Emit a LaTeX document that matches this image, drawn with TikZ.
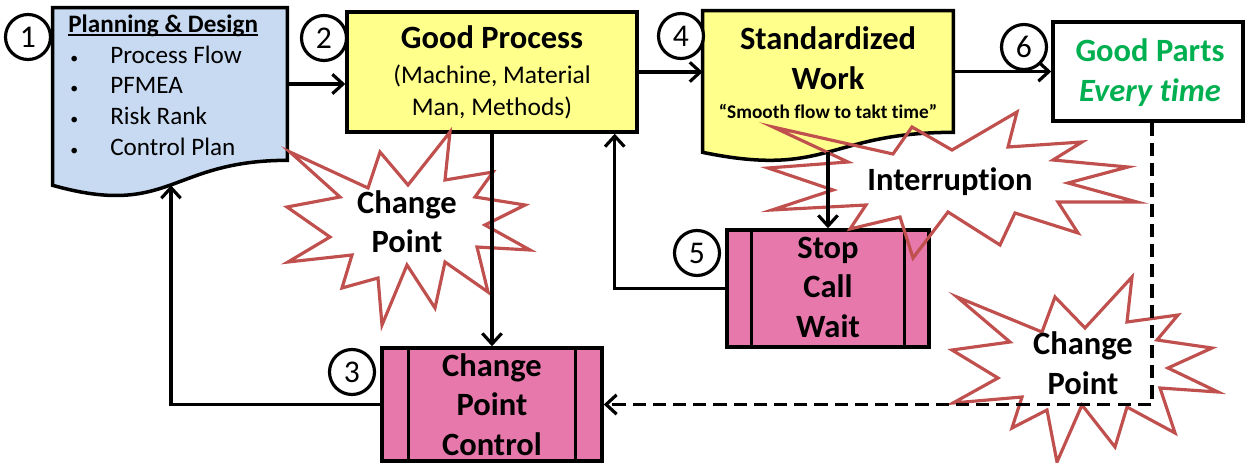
\documentclass[tikz,border=0pt]{standalone}
\usepackage{fontspec}
\setmainfont{Carlito}[Ligatures={TeX,NoCommon}]
\usetikzlibrary{arrows.meta,calc}

\definecolor{planblue}{RGB}{200,218,241}
\definecolor{padyellow}{RGB}{255,255,140}
\definecolor{ctrlpink}{RGB}{230,120,172}
\definecolor{goodgreen}{RGB}{0,176,80}
\definecolor{burstred}{RGB}{192,80,77}

\begin{document}
\begin{tikzpicture}[x=0.02cm, y=-0.02cm,
  edge/.style={draw, line width=2pt},
  box/.style={edge, inner sep=0pt},
  num/.style={circle, draw, line width=1.8pt, fill=white, minimum size=0.9cm, inner sep=0pt, font=\fontsize{18}{18}\selectfont},
  arr/.style={line width=1.8pt, -{Straight Barb[length=6pt,width=11pt]}},
  burst/.style={draw=burstred, line width=1.8pt},
  txt/.style={anchor=base, inner sep=0pt},
  big/.style={txt, font=\fontsize{18.5}{22}\selectfont\bfseries},
  body/.style={anchor=base west, inner sep=0pt, font=\fontsize{14.3}{17}\selectfont}]
\useasboundingbox (0,0) rectangle (1249,463);

% boxes
\node[inner sep=0pt, minimum width=4.68cm, minimum height=3.04cm] (plan) at (170,84) {};
\node[inner sep=0pt, minimum width=5cm, minimum height=2.42cm] (std) at (828,71.5) {};
\node[box, fill=padyellow, minimum width=5.8cm, minimum height=2.4cm] (gp) at (492,72) {};
\node[box, minimum width=3.8cm, minimum height=1.98cm] (good) at (1148,71.5) {};
\node[box, fill=ctrlpink, minimum width=4.4cm, minimum height=2.26cm] (cpc) at (492,404.5) {};
\node[box, fill=ctrlpink, minimum width=4.04cm, minimum height=2.34cm] (stop) at (828,288.5) {};

% document shapes
\draw[edge, fill=planblue] (plan.north west) -- (plan.north east) -- (plan.south east)
  .. controls (plan.south) and ($(plan.south)+(0,58)$) .. ($(plan.south west)+(0,25)$) -- cycle;
\draw[edge, fill=padyellow] (std.north west) -- (std.north east) -- (std.south east)
  .. controls (std.south) and ($(std.south)+(0,46)$) .. ($(std.south west)+(0,20)$) -- cycle;

% process bars
\foreach \n/\d in {cpc/28, stop/26} {
  \draw[edge] ($(\n.north west)+(\d,0)$) -- ($(\n.south west)+(\d,0)$);
  \draw[edge] ($(\n.north east)+(-\d,0)$) -- ($(\n.south east)+(-\d,0)$);
}

% bursts
\draw[burst] (290,152) -- (368,188) -- (380,152) -- (408,185) -- (450,132) -- (445,180)
  -- (493,172) -- (475,197) -- (525,205) -- (485,225) -- (530,250) -- (477,247)
  -- (488,292) -- (445,262) -- (435,308) -- (407,265) -- (382,325) -- (378,278)
  -- (342,288) -- (352,255) -- (288,262) -- (330,237) -- (287,207) -- (340,197) -- cycle;
\draw[burst] (773,127) -- (893,154) -- (912,127) -- (952,150) -- (1017,112) -- (1008,147)
  -- (1082,142) -- (1053,160) -- (1128,167) -- (1068,183) -- (1137,202) -- (1058,202)
  -- (1078,233) -- (1015,213) -- (1000,245) -- (948,212) -- (913,258) -- (900,217)
  -- (850,229) -- (866,205) -- (772,210) -- (833,190) -- (768,168) -- (848,162) -- cycle;
\draw[burst] (957,297) -- (1042,332) -- (1055,297) -- (1085,328) -- (1132,277) -- (1127,322)
  -- (1178,315) -- (1157,340) -- (1212,348) -- (1168,368) -- (1218,392) -- (1160,388)
  -- (1175,433) -- (1127,407) -- (1115,447) -- (1082,405) -- (1057,462) -- (1047,410)
  -- (1012,428) -- (1022,397) -- (953,403) -- (998,378) -- (952,350) -- (1010,342) -- cycle;

% connectors
\coordinate (stdfoot) at ($(std.south)+(0,20)$);
\coordinate (gpfoot) at ($(gp.south east)+(-24,0)$);
\coordinate (planfoot) at ($(plan.south)+(1,25)$);
\coordinate (goodfoot) at ($(good.south)+(4,0)$);
\draw[arr] (plan.east) -- (plan.east -| gp.west);
\draw[arr] (gp.east) -- (gp.east -| std.west);
\draw[arr] (std.east) -- (std.east -| good.west);
\draw[arr] (gp.south) -- (cpc.north);
\draw[arr] (stdfoot) -- (stop.north);
\draw[arr] (stop.west) -| (gpfoot);
\draw[arr] (cpc.west) -| (planfoot);
\draw[arr, dash pattern=on 7.5pt off 4pt] (goodfoot) |- (cpc.east);

% step numbers
\foreach \i/\x/\y in {1/28/37, 2/324/38, 3/352/372, 4/681/36, 5/697/253, 6/1024/47}
  \node[num] (n\i) at (\x,\y) {\i};

% texts
\node[body, font=\fontsize{14.3}{17}\selectfont\bfseries] (planhead) at (68,32) {Planning \& Design};
\draw[line width=0.9pt] ($(planhead.base west)+(0,3)$) -- ($(planhead.base east)+(0,3)$);
\foreach \t [count=\i] in {Process Flow, PFMEA, Risk Rank, Control Plan}
  \node[body] (item\i) at (70,{63+30.7*(\i-1)}) {\makebox[0.8cm][l]{\small\textbullet}\t};

\node[big] (gptitle) at (492,49) {Good Process};
\node[txt, font=\fontsize{14.5}{17}\selectfont] (gpsub1) at (492,83) {(Machine, Material};
\node[txt, font=\fontsize{14.5}{17}\selectfont] (gpsub2) at (492,115) {Man, Methods)};

\node[big] (std1) at (828,50) {Standardized};
\node[big] (std2) at (828,90) {Work};
\node[txt, font=\fontsize{11}{13}\selectfont\bfseries] (std3) at (828,118) {``Smooth flow to takt time''};

\node[big, text=goodgreen] (good1) at (1150,61) {Good Parts};
\node[big, text=goodgreen] (good2) at (1150,101) {\itshape Every time};

\foreach \t [count=\i] in {Stop, Call, Wait}
  \node[big] (stop\i) at (828,{258+39.5*(\i-1)}) {\t};
\foreach \t [count=\i] in {Change, Point, Control}
  \node[big] (cpc\i) at (492,{376+39.5*(\i-1)}) {\t};

\node[big] (cpa1) at (407,213) {Change};
\node[big] (cpa2) at (407,252) {Point};
\node[big] (intr) at (950,190) {Interruption};
\node[big] (cpb1) at (1083,354) {Change};
\node[big] (cpb2) at (1083,394) {Point};
\end{tikzpicture}
\end{document}
